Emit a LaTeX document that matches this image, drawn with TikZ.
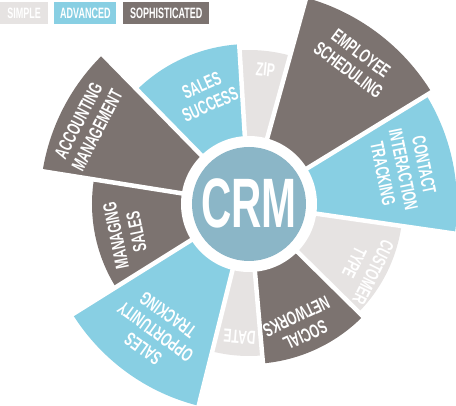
\documentclass[tikz,border=0pt]{standalone}
\usepackage{fontspec}
\usepackage{graphicx}
\setmainfont{Liberation Sans}
\definecolor{simplec}{HTML}{E6E3E2}
\definecolor{advc}{HTML}{88CFE3}
\definecolor{sophc}{HTML}{7C7370}
\definecolor{crmc}{HTML}{8BB6C7}
\newcommand\sectorfill[4]{\fill[#1] (0,0) -- (#2:#4pt) arc[start angle=#2, end angle=#3, radius=#4pt] -- cycle;}
\newcommand\cx[1]{\scalebox{0.64}[1]{\renewcommand\arraystretch{1}\begin{tabular}{@{}c@{}}#1\end{tabular}}}
\begin{document}
\begin{tikzpicture}[
  lbl/.style={text=white, font=\bfseries\fontsize{19}{21}\selectfont, inner sep=0pt},
  legend/.style={text=white, font=\bfseries\fontsize{15}{15}\selectfont, inner sep=0pt, minimum height=22.3pt, anchor=north west},
  gap/.style={white, line width=4.5pt},
]
\useasboundingbox (-249pt,-202pt) rectangle (207pt,204pt);
\clip (-249pt,-202pt) rectangle (207pt,204pt);
% sectors
\sectorfill{simplec}{74.5}{93.5}{154}
\sectorfill{advc}{93.5}{134.4}{160}
\sectorfill{sophc}{134.4}{171}{209}
\sectorfill{sophc}{171}{212}{157}
\sectorfill{advc}{212}{256}{208}
\sectorfill{simplec}{256}{275}{152}
\sectorfill{sophc}{275}{315.4}{160}
\sectorfill{simplec}{315.4}{351.8}{154}
\sectorfill{advc}{351.8}{391.5}{208}
\sectorfill{sophc}{391.5}{434.5}{214}
% gaps
\foreach \a in {74.5,93.5,134.4,171,212,256,275,315.4,351.8,31.5}
  \draw[gap] (0,0) -- (\a:230pt);
\fill[white] (0,0) circle[radius=68pt];
\fill[crmc] (0,0) circle[radius=57pt];
\node[text=white, font=\bfseries\fontsize{70}{70}\selectfont, inner sep=0pt] (crm) at (0,1pt) {\scalebox{0.6}[1]{CRM}};
% labels
\node[lbl, rotate=-6] (zip) at (83:133pt) {\cx{ZIP}};
\node[lbl, rotate=24] (success) at (111.5:115pt) {\cx{SALES\\SUCCESS}};
\node[lbl, rotate=62.7] (acc) at (154:177pt) {\cx{ACCOUNTING\\MANAGEMENT}};
\node[lbl, rotate=101.5] (mng) at (193.6:124pt) {\cx{MANAGING\\SALES}};
\node[lbl, rotate=144] (opp) at (233.8:156pt) {\cx{SALES\\OPPORTUNITY\\TRACKING}};
\node[lbl, rotate=175.5] (date) at (266:131pt) {\cx{DATE}};
\node[lbl, rotate=205.2] (soc) at (293:130pt) {\cx{SOCIAL\\NETWORKS}};
\node[lbl, rotate=243.6] (cust) at (331:129pt) {\cx{CUSTOMER\\TYPE}};
\node[lbl, rotate=-78.35] (contact) at (12.6:156pt) {\cx{CONTACT\\INTERACTION\\TRACKING}};
\node[lbl, rotate=-37] (emp) at (53.4:175pt) {\cx{EMPLOYEE\\SCHEDULING}};
% legend
\node[legend, fill=simplec, minimum width=48pt] (lsimple) at (-249pt,202.3pt) {\scalebox{0.6}[1]{SIMPLE}};
\node[legend, fill=advc, minimum width=61.7pt] (ladv) at (-194.7pt,202.3pt) {\scalebox{0.6}[1]{ADVANCED}};
\node[legend, fill=sophc, minimum width=86.6pt] (lsoph) at (-126.3pt,202.3pt) {\scalebox{0.6}[1]{SOPHISTICATED}};
\end{tikzpicture}
\end{document}
